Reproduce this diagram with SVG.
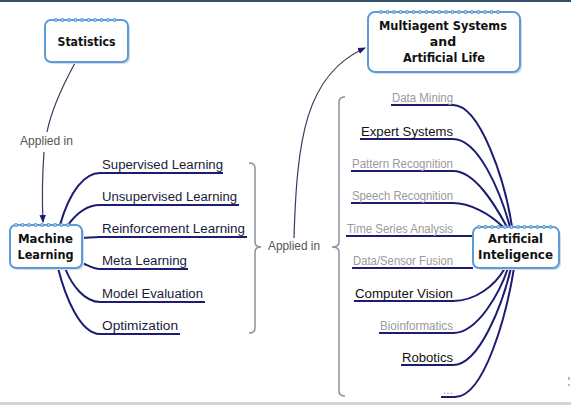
<svg xmlns="http://www.w3.org/2000/svg" width="571" height="405" viewBox="0 0 571 405">
<style>
.node{fill:#ffffff;stroke:#5d9bd8;stroke-width:2}
.shadow{fill:#d7dde6}
.ring1{stroke:#5d9bd8;stroke-width:4;stroke-linecap:round;stroke-dasharray:0 6.5;fill:none}
.ring2{stroke:#ffffff;stroke-width:1.4;stroke-linecap:round;stroke-dasharray:0 6.5;fill:none}
.nt{font-family:"DejaVu Sans","Liberation Sans",sans-serif;font-weight:bold;font-size:12.5px;fill:#111;text-anchor:middle}
.lbl{font-family:"Liberation Sans","DejaVu Sans",sans-serif;font-size:12.5px;fill:#1a1a3a}
.rl{font-family:"Liberation Sans","DejaVu Sans",sans-serif;font-size:12px;text-anchor:end}
.g{fill:#9a9a9a}
.b{fill:#111}
.br{fill:none;stroke:#1c1c72;stroke-width:2}
.brk{fill:none;stroke:#8e8ea0;stroke-width:1.5}
.thin{fill:none;stroke:#3a3a5a;stroke-width:1.2}
.ap{font-family:"Liberation Sans","DejaVu Sans",sans-serif;font-size:12px;fill:#555}
</style>
<defs>
<marker id="arr" markerWidth="8" markerHeight="8" refX="7" refY="4" orient="auto" markerUnits="userSpaceOnUse">
<path d="M0,0.8 L8,4 L0,7.2 Z" fill="#1c1c72"/>
</marker>
</defs>
<rect x="0" y="0" width="571" height="405" fill="#ffffff"/>
<rect x="0" y="0" width="571" height="2" fill="#34506a"/>
<rect x="0" y="402" width="571" height="3" fill="#d4d4d4"/>
<rect x="568" y="377" width="2" height="3" fill="#c8b89a"/>
<rect x="568" y="384" width="2" height="2" fill="#c8b89a"/>

<g id="connectors">
<path class="thin" d="M75,63 C63,85 51,112 47,132"/>
<path class="thin" d="M44,152 C42,180 42,200 43,222" marker-end="url(#arr)"/>
<path class="thin" d="M294,238 C297,140 305,75 365,48" marker-end="url(#arr)"/>
<path class="br" d="M223,173 H100 C85,173 70,190 60,225"/>
<path class="br" d="M239,205 H100 C86,205 76,214 68,225"/>
<path class="br" d="M247,237 H100 C92,237 88,238 82,238"/>
<path class="br" d="M188,269 H100 C92,269 88,265 82,263"/>
<path class="br" d="M205,302 H100 C85,302 72,286 65,268"/>
<path class="br" d="M180,334 H100 C80,334 65,296 58,268"/>
<path class="br" d="M391,105 H453 C480,105 505,180 512,227"/>
<path class="br" d="M360,139 H453 C478,139 500,190 510,227"/>
<path class="br" d="M351,171 H453 C475,171 495,205 507,227"/>
<path class="br" d="M351,203 H453 C470,203 490,214 503,227"/>
<path class="br" d="M346,236 H473"/>
<path class="br" d="M352,268 H473"/>
<path class="br" d="M354,301 H453 C475,301 495,286 505,268"/>
<path class="br" d="M379,333 H453 C478,333 500,292 508,268"/>
<path class="br" d="M401,365 H453 C480,365 503,302 511,268"/>
<path class="br" d="M441,397 H455 C485,397 507,312 514,268"/>
<path class="brk" d="M249,163 Q255,163 255,168 V242 Q255,247 261,247 Q255,247 255,252 V328 Q255,333 249,333"/>
<path class="brk" d="M345,97 Q339,97 339,102 V242 Q339,247 332,247 Q339,247 339,252 V391 Q339,396 345,396"/>
</g>

<text class="ap" x="20" y="145" textLength="53" lengthAdjust="spacingAndGlyphs">Applied in</text>
<text class="ap" x="268" y="250" textLength="52" lengthAdjust="spacingAndGlyphs">Applied in</text>

<g id="statistics">
<rect class="shadow" x="47" y="22" width="83" height="42" rx="6"/>
<rect class="node" x="45" y="20" width="83" height="42" rx="6"/>
<line class="ring1" x1="56" y1="20" x2="119" y2="20"/>
<line class="ring2" x1="56" y1="20" x2="119" y2="20"/>
<text class="nt" x="86.5" y="46" textLength="58" lengthAdjust="spacingAndGlyphs">Statistics</text>
</g>

<g id="multiagent">
<rect class="shadow" x="370" y="14" width="152" height="60" rx="7"/>
<rect class="node" x="368" y="12" width="152" height="60" rx="7"/>
<line class="ring1" x1="381" y1="12" x2="502" y2="12"/>
<line class="ring2" x1="381" y1="12" x2="502" y2="12"/>
<text class="nt" x="443" y="30" textLength="128" lengthAdjust="spacingAndGlyphs">Multiagent Systems</text>
<text class="nt" x="443" y="46">and</text>
<text class="nt" x="444" y="62" textLength="82" lengthAdjust="spacingAndGlyphs">Artificial Life</text>
</g>

<g id="machine-learning">
<rect class="shadow" x="12" y="227" width="72" height="43" rx="6"/>
<rect class="node" x="10" y="225" width="72" height="43" rx="6"/>
<line class="ring1" x1="16" y1="225" x2="74" y2="225"/>
<line class="ring2" x1="16" y1="225" x2="74" y2="225"/>
<text class="nt" x="45.5" y="243" textLength="55" lengthAdjust="spacingAndGlyphs">Machine</text>
<text class="nt" x="45.5" y="259" textLength="56" lengthAdjust="spacingAndGlyphs">Learning</text>
</g>

<g id="artificial-intelligence">
<rect class="shadow" x="475" y="229" width="86" height="41" rx="6"/>
<rect class="node" x="473" y="227" width="86" height="41" rx="6"/>
<line class="ring1" x1="479" y1="227" x2="553" y2="227"/>
<line class="ring2" x1="479" y1="227" x2="553" y2="227"/>
<text class="nt" x="515.5" y="243" textLength="55" lengthAdjust="spacingAndGlyphs">Artificial</text>
<text class="nt" x="515.5" y="259" textLength="75" lengthAdjust="spacingAndGlyphs">Inteligence</text>
</g>

<g id="ml-topics">
<text class="lbl" x="102" y="169" textLength="121" lengthAdjust="spacingAndGlyphs">Supervised Learning</text>
<text class="lbl" x="102" y="201" textLength="135" lengthAdjust="spacingAndGlyphs">Unsupervised Learning</text>
<text class="lbl" x="102" y="233" textLength="143" lengthAdjust="spacingAndGlyphs">Reinforcement Learning</text>
<text class="lbl" x="102" y="265" textLength="85" lengthAdjust="spacingAndGlyphs">Meta Learning</text>
<text class="lbl" x="102" y="298" textLength="101" lengthAdjust="spacingAndGlyphs">Model Evaluation</text>
<text class="lbl" x="102" y="330" textLength="76" lengthAdjust="spacingAndGlyphs">Optimization</text>
</g>

<g id="ai-topics">
<text class="rl g" x="453" y="102" textLength="61" lengthAdjust="spacingAndGlyphs">Data Mining</text>
<text class="rl b" x="453" y="136" textLength="92" lengthAdjust="spacingAndGlyphs">Expert Systems</text>
<text class="rl g" x="453" y="168" textLength="101" lengthAdjust="spacingAndGlyphs">Pattern Recognition</text>
<text class="rl g" x="453" y="200" textLength="101" lengthAdjust="spacingAndGlyphs">Speech Recognition</text>
<text class="rl g" x="453" y="233" textLength="106" lengthAdjust="spacingAndGlyphs">Time Series Analysis</text>
<text class="rl g" x="453" y="265" textLength="100" lengthAdjust="spacingAndGlyphs">Data/Sensor Fusion</text>
<text class="rl b" x="453" y="298" textLength="98" lengthAdjust="spacingAndGlyphs">Computer Vision</text>
<text class="rl g" x="453" y="330" textLength="73" lengthAdjust="spacingAndGlyphs">Bioinformatics</text>
<text class="rl b" x="453" y="362" textLength="51" lengthAdjust="spacingAndGlyphs">Robotics</text>
<text class="rl g" x="453" y="394">...</text>
</g>
</svg>
